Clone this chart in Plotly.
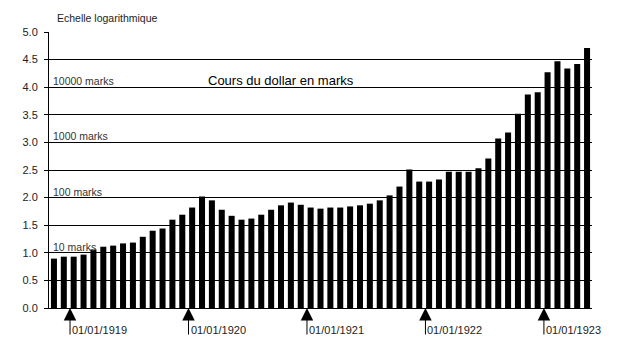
import plotly.graph_objects as go

# Monthly dollar exchange rate, log10 of marks per dollar (Nov 1918 - May 1923)
months = ["11/1918", "12/1918",
          "01/1919", "02/1919", "03/1919", "04/1919", "05/1919", "06/1919",
          "07/1919", "08/1919", "09/1919", "10/1919", "11/1919", "12/1919",
          "01/1920", "02/1920", "03/1920", "04/1920", "05/1920", "06/1920",
          "07/1920", "08/1920", "09/1920", "10/1920", "11/1920", "12/1920",
          "01/1921", "02/1921", "03/1921", "04/1921", "05/1921", "06/1921",
          "07/1921", "08/1921", "09/1921", "10/1921", "11/1921", "12/1921",
          "01/1922", "02/1922", "03/1922", "04/1922", "05/1922", "06/1922",
          "07/1922", "08/1922", "09/1922", "10/1922", "11/1922", "12/1922",
          "01/1923", "02/1923", "03/1923", "04/1923", "05/1923"]
log_rate = [0.895, 0.93, 0.93, 0.967, 1.06, 1.11, 1.13, 1.17, 1.185, 1.29,
            1.40, 1.44, 1.60, 1.69, 1.82, 2.02, 1.95, 1.78, 1.67, 1.60,
            1.62, 1.69, 1.78, 1.86, 1.91, 1.87, 1.82, 1.80, 1.82, 1.82,
            1.84, 1.86, 1.89, 1.95, 2.04, 2.20, 2.51, 2.29, 2.29, 2.33,
            2.47, 2.47, 2.47, 2.53, 2.71, 3.07, 3.18, 3.52, 3.87, 3.91,
            4.27, 4.47, 4.34, 4.42, 4.71]
y_ticks = [0.0, 0.5, 1.0, 1.5, 2.0, 2.5, 3.0, 3.5, 4.0, 4.5, 5.0]
level_labels = ["10 marks", "100 marks", "1000 marks", "10000 marks"]
level_values = [1, 2, 3, 4]
year_labels = ["01/01/1919", "01/01/1920", "01/01/1921", "01/01/1922", "01/01/1923"]
year_start_month = ["01/1919", "01/1920", "01/1921", "01/1922", "01/1923"]

FONT = "Liberation Sans, Arial, sans-serif"
x_idx = list(range(len(months)))

fig = go.Figure()
fig.add_trace(go.Bar(x=x_idx, y=log_rate, marker=dict(color="black", line=dict(width=0)),
                     hovertext=months, width=0.61))

annotations = []
for lab, v in zip(level_labels, level_values):
    annotations.append(dict(text=lab, xref="paper", x=0, xanchor="left", xshift=2,
                            yref="y", y=v, yanchor="middle", yshift=6, showarrow=False,
                            font=dict(family=FONT, size=10.5, color="#333")))
annotations.append(dict(text="Echelle logarithmique", xref="paper", x=0, xanchor="left", xshift=6,
                        yref="paper", y=1, yanchor="middle", yshift=14, showarrow=False,
                        font=dict(family=FONT, size=10.5, color="#222")))
annotations.append(dict(text="Cours du dollar en marks", xref="paper", x=0.427, xanchor="center",
                        yref="y", y=4.13, yanchor="middle", showarrow=False,
                        font=dict(family=FONT, size=13, color="black")))
for lab, m in zip(year_labels, year_start_month):
    xi = months.index(m) - 0.37
    annotations.append(dict(text="", x=xi, y=0, xref="x", yref="y", showarrow=True,
                            ax=0, ay=28, arrowhead=2, arrowsize=2.5, arrowwidth=1,
                            arrowcolor="black", standoff=0))
    annotations.append(dict(text=lab, x=xi, y=0, xref="x", yref="y", xanchor="left", xshift=0,
                            yanchor="middle", yshift=-22, showarrow=False,
                            font=dict(family=FONT, size=11, color="#222")))

fig.update_layout(
    width=620, height=340,
    margin=dict(l=49, r=28, t=32, b=32),
    paper_bgcolor="white", plot_bgcolor="white",
    showlegend=False,
    bargap=0.39,
    annotations=annotations,
    xaxis=dict(range=[-0.5, len(months) - 0.5], showticklabels=False, showgrid=False,
               zeroline=False, showline=True, linecolor="black", linewidth=1, ticks=""),
    yaxis=dict(range=[0, 5], tickvals=y_ticks, ticktext=[f"{v:.1f}" for v in y_ticks],
               showgrid=True, gridcolor="black", gridwidth=1, zeroline=False,
               showline=True, linecolor="black", linewidth=1, ticks="outside", ticklen=4,
               tickcolor="black", ticklabelstandoff=4,
               tickfont=dict(family=FONT, size=11, color="#222")),
)

fig.write_html("out.html")
